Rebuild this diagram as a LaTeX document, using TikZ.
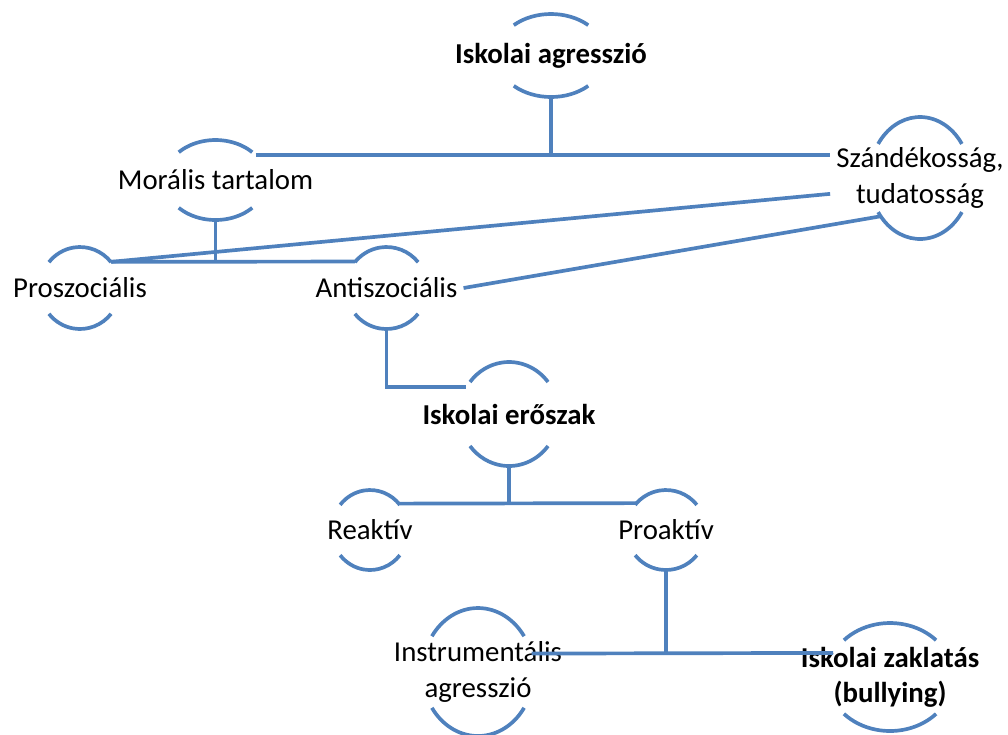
\documentclass[tikz,border=0pt]{standalone}
\usepackage{fontspec}
\setmainfont{Carlito}
\usepackage{tikz}
\usetikzlibrary{shapes.geometric}

\definecolor{smartblue}{RGB}{79,129,189}

\tikzset{
  capline/.style={smartblue, line width=2.1pt},
  link/.style={smartblue, line width=2.1pt},
  lbl/.style={font=\fontsize{16.4}{20}\selectfont, align=center},
  lblbold/.style={lbl, font=\fontsize{16.4}{20}\selectfont\bfseries}
}

% arcs above and below a label: node, x radius, y radius, angle of the arc ends
\newcommand{\capring}[4]{%
  \node[ellipse, minimum width=2*#2, minimum height=2*#3, inner sep=0pt] (#1-e) at (#1.center) {};
  \draw[capline] (#1.center) ++(#4:#2 and #3) arc[start angle=#4, end angle=180-#4, x radius=#2, y radius=#3];
  \draw[capline] (#1.center) ++(-#4:#2 and #3) arc[start angle=-#4, end angle=-180+#4, x radius=#2, y radius=#3];
}

\begin{document}
\begin{tikzpicture}
\useasboundingbox (0,0) rectangle (20.16,-14.68);

\node[lblbold] (agr) at (11.02,-1.11) {Iskolai agresszió};
\node[lbl] (moral) at (4.31,-3.6) {Morális tartalom};
\node[lbl] (szand) at (18.40,-3.56) {Szándékosság,\\tudatosság};
\node[lbl] (prosz) at (1.6,-5.76) {Proszociális};
\node[lbl] (anti) at (7.73,-5.76) {Antiszociális};
\node[lblbold] (eroszak) at (10.18,-8.28) {Iskolai erőszak};
\node[lbl] (reakt) at (7.4,-10.6) {Reaktív};
\node[lbl] (proakt) at (13.32,-10.6) {Proaktív};
\node[lbl] (instr) at (9.56,-13.44) {Instrumentális\\agresszió};
\node[lblbold] (bully) at (17.8,-13.54) {Iskolai zaklatás\\(bullying)};

\capring{agr}{1.092cm}{0.83cm}{47}
\capring{moral}{1.022cm}{0.8cm}{44}
\capring{szand}{1.01cm}{1.22cm}{34}
\capring{prosz}{0.8cm}{0.82cm}{39}
\capring{anti}{0.814cm}{0.82cm}{39}
\capring{eroszak}{0.99cm}{1.04cm}{38}
\capring{reakt}{0.768cm}{0.8cm}{39}
\capring{proakt}{0.794cm}{0.8cm}{39}
\capring{instr}{1.112cm}{1.28cm}{34}
\capring{bully}{1.26cm}{1.08cm}{43}

% tree
\draw[link] (agr-e.south) -- (agr-e.south |- moral-e.32);
\draw[link] (moral-e.32) -- (moral-e.32 -| szand.west);
\draw[link] (moral-e.south) -- (moral-e.south |- prosz-e.40);
\draw[link] (prosz-e.40) -- (anti-e.140);
\draw[link] (prosz-e.40) -- (szand.190);
\draw[link] (anti.east) -- (szand-e.224);
\draw[link] (anti-e.south) |- (eroszak-e.148);
\draw[link] (eroszak-e.south) -- (eroszak-e.south |- reakt-e.42);
\draw[link] (reakt-e.42) -- (proakt-e.138);
\draw[link] (proakt-e.south) -- (proakt-e.south |- instr-e.19);
\draw[link] (instr-e.19) -- (bully-e.157);
\end{tikzpicture}
\end{document}
